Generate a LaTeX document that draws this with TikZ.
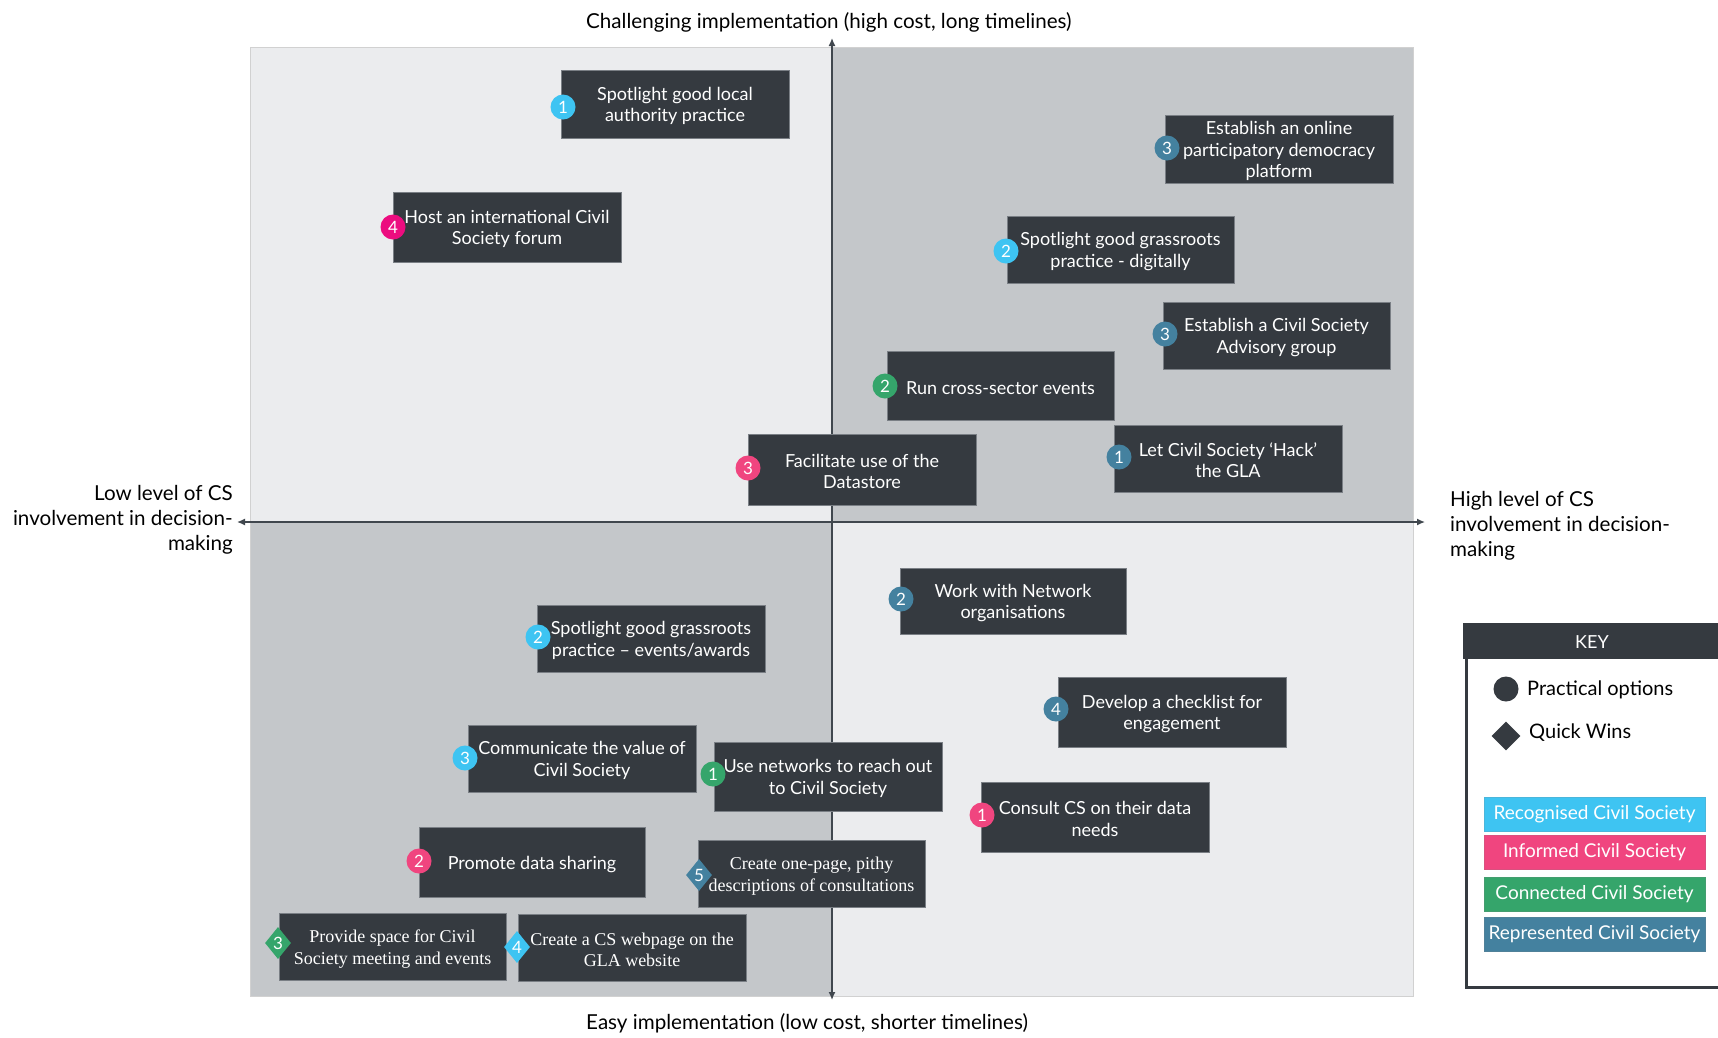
\documentclass[tikz,border=0pt]{standalone}
\usepackage{fontspec}
\setmainfont{Lato}
\newfontfamily\serifb{Liberation Serif}
\usetikzlibrary{shapes.geometric,arrows.meta}
\definecolor{boxfill}{HTML}{353A40}
\definecolor{boxedge}{HTML}{7A7F85}
\definecolor{qlight}{HTML}{EBECEE}
\definecolor{qdark}{HTML}{C4C7CA}
\definecolor{axiscol}{HTML}{40474E}
\definecolor{recog}{HTML}{3EC4F2}
\definecolor{inform}{HTML}{F0457F}
\definecolor{informm}{HTML}{EC0C7F}
\definecolor{connect}{HTML}{35A56B}
\definecolor{repres}{HTML}{44819F}
\newcommand{\upstrut}{\rule{0pt}{17.5pt}}
\begin{document}
\begin{tikzpicture}[x=1pt,y=-1pt,
  optbox/.style={fill=boxfill, draw=boxedge, line width=0.6pt, text=white, align=center,
    inner sep=0pt, minimum width=228pt, minimum height=68pt, font=\fontsize{18}{21.5}\selectfont},
  serbox/.style={optbox, font=\serifb\fontsize{18}{21.5}\selectfont},
  badge/.style={circle, fill=#1, text=white, inner sep=0pt, minimum size=25pt, font=\fontsize{17}{17}\selectfont},
  qwbadge/.style={diamond, fill=#1, text=white, inner sep=0pt, minimum width=26pt, minimum height=32pt, font=\fontsize{17}{17}\selectfont},
  axis/.style={draw=axiscol, line width=1.4pt, -{Latex[length=8pt,width=7pt]}},
  axlab/.style={font=\fontsize{20.6}{25}\selectfont, text=black, inner sep=0pt},
  keybox/.style={fill=#1, draw=#1!80!gray, line width=0.5pt, text=white, inner sep=0pt, minimum width=221pt, minimum height=34pt, font=\fontsize{19}{19}\selectfont}
]
\useasboundingbox (0,0) rectangle (1718,1037);
\clip (0,0) rectangle (1718,1037);
\fill[white] (0,0) rectangle (1718,1037);

% quadrants
\fill[qlight] (250,47) rectangle (832,522);
\fill[qdark] (832,47) rectangle (1413,522);
\fill[qdark] (250,522) rectangle (832,996);
\fill[qlight] (832,522) rectangle (1413,996);
\draw[draw=black!18, line width=0.6pt] (250,47) rectangle (1413,996);

% axes
\coordinate (C) at (832,522);
\coordinate (T) at (832,38);
\coordinate (B) at (832,1000);
\coordinate (L) at (237,522);
\coordinate (R) at (1425,522);
\draw[axis] (C) -- (T);
\draw[axis] (C) -- (B);
\draw[axis] (C) -- (L);
\draw[axis] (C) -- (R);

% axis labels
\node[axlab, anchor=west] (toplab) at (586,22) {Challenging implementation (high cost, long timelines)};
\node[axlab, anchor=west] (botlab) at (586,1023) {Easy implementation (low cost, shorter timelines)};
\node[axlab, anchor=east, align=right] (leftlab) at (233,520) {Low level of CS\\involvement in decision-\\making};
\node[axlab, anchor=west, align=left] (rightlab) at (1450,526) {High level of CS\\involvement in decision-\\making};

% option boxes
\node[optbox] (b1) at (675,104) {\upstrut Spotlight good local\\authority practice};
\node[badge=recog] (n1) at (563,107) {1};
\node[optbox, minimum height=70pt] (b2) at (507,227) {\upstrut Host an international Civil\\Society forum};
\node[badge=informm] (n2) at (393,227) {4};
\node[optbox] (b3) at (1279,149) {\upstrut Establish an online\\participatory democracy\\platform};
\node[badge=repres] (n3) at (1167,148) {3};
\node[optbox, minimum height=71pt] (b4) at (862,469.5) {\upstrut Facilitate use of the\\Datastore};
\node[badge=inform] (n4) at (748,468) {3};
\node[optbox, minimum width=227pt, minimum height=67pt] (b5) at (1120.5,249.5) {\upstrut Spotlight good grassroots\\practice - digitally};
\node[badge=recog] (n5) at (1006,251) {2};
\node[optbox, minimum width=227pt, minimum height=67pt] (b6) at (1276.5,335.5) {\upstrut Establish a Civil Society\\Advisory group};
\node[badge=repres] (n6) at (1165,334) {3};
\node[optbox, minimum width=227pt, minimum height=69pt] (b7) at (1000.5,385.5) {\upstrut Run cross-sector events};
\node[badge=connect] (n7) at (885,386) {2};
\node[optbox, minimum height=67pt] (b8) at (1228,458.5) {\upstrut Let Civil Society `Hack'\\the GLA};
\node[badge=repres] (n8) at (1119,457) {1};
\node[optbox, minimum width=226pt, minimum height=66pt] (b9) at (1013,601) {\upstrut Work with Network\\organisations};
\node[badge=repres] (n9) at (901,599) {2};
\node[optbox, minimum height=67pt] (b10) at (651,638.5) {\upstrut Spotlight good grassroots\\practice -- events/awards};
\node[badge=recog] (n10) at (538,637) {2};
\node[optbox, minimum height=70pt] (b11) at (1172,712) {\upstrut Develop a checklist for\\engagement};
\node[badge=repres] (n11) at (1056,709) {4};
\node[optbox, minimum height=67pt] (b12) at (582,758.5) {\upstrut Communicate the value of\\Civil Society};
\node[badge=recog] (n12) at (465,758) {3};
\node[optbox, minimum height=69pt] (b13) at (828,776.5) {\upstrut Use networks to reach out\\to Civil Society};
\node[badge=connect] (n13) at (713,774) {1};
\node[optbox, minimum height=70pt] (b14) at (1095,817) {\upstrut Consult CS on their data\\needs};
\node[badge=inform] (n14) at (982,815) {1};
\node[optbox, minimum width=226pt, minimum height=70pt] (b15) at (532,862) {\upstrut Promote data sharing};
\node[badge=inform] (n15) at (419,861) {2};
\node[serbox, minimum width=227pt, minimum height=67pt] (b16) at (811.5,873.5) {\upstrut Create one-page, pithy\\descriptions of consultations};
\node[qwbadge=repres] (n16) at (699,875) {5};
\node[serbox, minimum width=227pt, minimum height=67pt] (b17) at (392.5,946.5) {\upstrut Provide space for Civil\\Society meeting and events};
\node[qwbadge=connect] (n17) at (278,943) {3};
\node[serbox, minimum height=67pt] (b18) at (632,947.5) {\upstrut Create a CS webpage on the\\GLA website};
\node[qwbadge=recog] (n18) at (517,947) {4};

% key
\draw[draw=boxfill, line width=3pt] (1466,650) -- (1466,987) -- (1730,987);
\node[fill=boxfill, text=white, inner sep=0pt, minimum width=270pt, minimum height=36pt, anchor=north west, font=\fontsize{17}{17}\selectfont] (keyhead) at (1463,623) {};
\node[text=white, font=\fontsize{18}{18}\selectfont] (keytxt) at (1592,642) {KEY};
\node[circle, fill=boxfill, inner sep=0pt, minimum size=25pt] (kcirc) at (1506,689) {};
\node[anchor=west, font=\fontsize{20}{20}\selectfont, inner sep=0pt] (kcirct) at (1527,690) {Practical options};
\node[diamond, fill=boxfill, inner sep=0pt, minimum width=29pt, minimum height=29pt] (kdia) at (1506,736) {};
\node[anchor=west, font=\fontsize{20}{20}\selectfont, inner sep=0pt] (kdiat) at (1529,733) {Quick Wins};
\node[keybox=recog] (k1) at (1594.5,814) {Recognised Civil Society};
\node[keybox=inform] (k2) at (1594.5,852) {Informed Civil Society};
\node[keybox=connect] (k3) at (1594.5,894) {Connected Civil Society};
\node[keybox=repres] (k4) at (1594.5,934) {Represented Civil Society};
\end{tikzpicture}
\end{document}
